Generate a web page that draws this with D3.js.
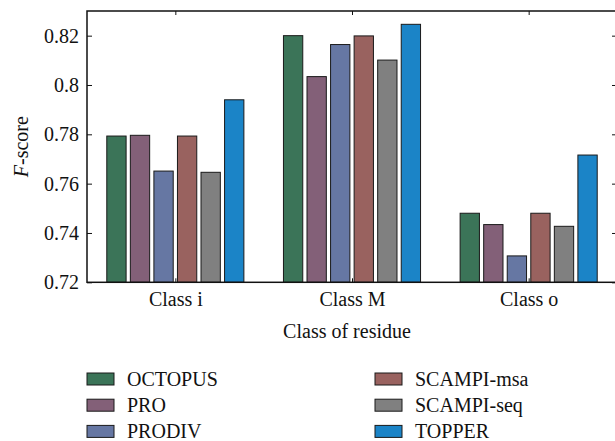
<!DOCTYPE html>
<html>
<head>
<meta charset="utf-8">
<script src="https://cdn.jsdelivr.net/npm/d3@7"></script>
<style>
  body { margin: 0; background: #fff; }
</style>
</head>
<body>
<svg width="615" height="441"></svg>
<script>
const classes = ["Class i", "Class M", "Class o"];
const methods = ["OCTOPUS", "PRO", "PRODIV", "SCAMPI-msa", "SCAMPI-seq", "TOPPER"];
const colors = ["#3b7458", "#836078", "#6677a3", "#99625f", "#808080", "#1b84c7"];
// F-score per method, in class order
const octopus = [0.7793, 0.8200, 0.7480];
const pro = [0.7796, 0.8034, 0.7434];
const prodiv = [0.7651, 0.8164, 0.7307];
const scampiMsa = [0.7793, 0.8199, 0.7480];
const scampiSeq = [0.7646, 0.8101, 0.7427];
const topper = [0.7940, 0.8246, 0.7716];
const yTicks = [0.72, 0.74, 0.76, 0.78, 0.8, 0.82];

const seriesValues = [octopus, pro, prodiv, scampiMsa, scampiSeq, topper];

const serif = "'Liberation Serif', 'DejaVu Serif', 'Times New Roman', serif";

const svg = d3.select("svg");
const plotLeft = 87, plotRight = 617, plotTop = 11, plotBottom = 282.3;

const xScale = d3.scaleLinear().domain([0.5, 3.5]).range([plotLeft, plotRight]);
const yScale = d3.scaleLinear().domain([0.72, 0.83]).range([plotBottom, plotTop]);

// bars inside a group span 0.8 x-units
const inner = d3
  .scaleBand()
  .domain(methods)
  .range([-0.4, 0.4])
  .paddingInner(0.18)
  .paddingOuter(0.09);

const bars = [];
classes.forEach((c, ci) => {
  methods.forEach((m, mi) => {
    bars.push({ ci: ci, m: m, v: seriesValues[mi][ci], color: colors[mi] });
  });
});

const g = svg.append("g");

g.selectAll("rect.bar")
  .data(bars)
  .enter()
  .append("rect")
  .attr("class", "bar")
  .attr("x", (d) => xScale(d.ci + 1 + inner(d.m)))
  .attr("width", (d) => xScale(d.ci + 1 + inner(d.m) + inner.bandwidth()) - xScale(d.ci + 1 + inner(d.m)))
  .attr("y", (d) => yScale(d.v))
  .attr("height", (d) => plotBottom - yScale(d.v))
  .attr("fill", (d) => d.color)
  .attr("stroke", "#1a1a1a")
  .attr("stroke-width", 1);

// left axis, ticks inward
const yAxisL = d3.axisLeft(yScale).tickValues(yTicks).tickSize(-5).tickPadding(8)
  .tickFormat((d) => String(+d.toFixed(2)));
const yAxisLG = g.append("g").attr("transform", `translate(${plotLeft},0)`).call(yAxisL);
yAxisLG.select(".domain").remove();
yAxisLG.selectAll("line").attr("stroke", "#111");

// right axis, ticks inward, no labels
const yAxisR = d3.axisRight(yScale).tickValues(yTicks).tickSize(-5).tickFormat("");
const yAxisRG = g.append("g").attr("transform", `translate(${plotRight},0)`).call(yAxisR);
yAxisRG.select(".domain").remove();
yAxisRG.selectAll("line").attr("stroke", "#111");

// bottom axis with class names
const xAxisB = d3.axisBottom(xScale).tickValues([1, 2, 3]).tickSize(-4).tickPadding(10)
  .tickFormat((d) => classes[d - 1]);
const xAxisBG = g.append("g").attr("transform", `translate(0,${plotBottom})`).call(xAxisB);
xAxisBG.select(".domain").remove();
xAxisBG.selectAll("line").attr("stroke", "#111");

const xAxisT = d3.axisTop(xScale).tickValues([1, 2, 3]).tickSize(-4).tickFormat("");
const xAxisTG = g.append("g").attr("transform", `translate(0,${plotTop})`).call(xAxisT);
xAxisTG.select(".domain").remove();
xAxisTG.selectAll("line").attr("stroke", "#111");

// frame
g.append("rect")
  .attr("x", plotLeft)
  .attr("y", plotTop)
  .attr("width", plotRight - plotLeft)
  .attr("height", plotBottom - plotTop)
  .attr("fill", "none")
  .attr("stroke", "#111")
  .attr("stroke-width", 1.5);

// axis titles
g.append("text")
  .attr("x", (plotLeft + 607) / 2)
  .attr("y", 338)
  .attr("text-anchor", "middle")
  .text("Class of residue");

const yTitle = g.append("text")
  .attr("transform", `translate(28,${(plotTop + plotBottom) / 2}) rotate(-90)`)
  .attr("text-anchor", "middle");
yTitle.append("tspan").style("font-style", "italic").text("F");
yTitle.append("tspan").text("-score");

// legend: two columns of three
const legend = g.selectAll("g.legend")
  .data(methods)
  .enter()
  .append("g")
  .attr("class", "legend")
  .attr("transform", (d, i) => `translate(${i < 3 ? 87 : 375},${379 + (i % 3) * 26.2})`);

legend.append("rect")
  .attr("x", 0)
  .attr("y", -6)
  .attr("width", 27)
  .attr("height", 12)
  .attr("fill", (d, i) => colors[i])
  .attr("stroke", "#1a1a1a")
  .attr("stroke-width", 1);

legend.append("text")
  .attr("x", 40)
  .attr("y", 7)
  .text((d) => d);

// one font for every text
svg.selectAll("text")
  .style("font-family", serif)
  .style("font-size", "20px")
  .style("fill", "#111");
</script>
</body>
</html>
